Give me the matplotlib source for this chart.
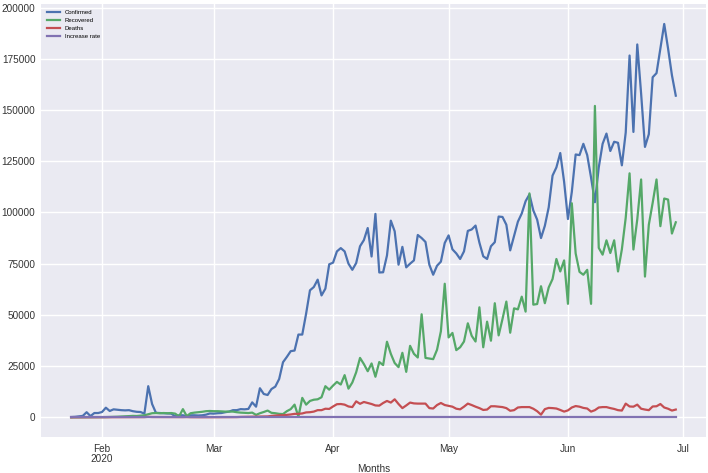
import matplotlib
matplotlib.use("Agg")
import matplotlib.pyplot as plt
import matplotlib.dates as mdates
import pandas as pd

start_date = "2020-01-24"

confirmed = [
    150, 250, 500, 700, 2500, 600, 2100, 2100, 2600, 4700,
    3100, 3900, 3700, 3500, 3400, 3500, 3000, 2700, 2600, 1800,
    15200, 6500, 2200, 2100, 2000, 1900, 1800, 500, 1000, 1000,
    600, 1000, 1000, 900, 1000, 1300, 1900, 1800, 2000, 2100,
    2500, 2800, 3500, 3500, 4000, 3900, 4100, 7300, 5200, 14200,
    11400, 10900, 13800, 15000, 18700, 26900, 29500, 32300, 32600, 40400,
    40400, 50600, 62000, 63600, 67200, 59500, 62800, 74700, 75500, 81000,
    82600, 81000, 75000, 72000, 75300, 83500, 86500, 92400, 78500, 99300,
    70700, 70800, 79000, 96000, 90800, 74500, 83200, 73200, 75000, 76600,
    89000, 87500, 85600, 74500, 69600, 74000, 76000, 85100, 88800, 82000,
    80000, 77300, 81000, 91000, 91700, 93600, 85300, 78600, 77300, 83500,
    85500, 98000, 97800, 94000, 81500, 88500, 95500, 99500, 105500, 108800,
    101000, 96500, 87500, 93500, 102500, 118000, 122000, 129000, 115000, 96800,
    110000, 128300, 128000, 133500, 128000, 117000, 105000, 122000, 133500, 138500,
    130000, 134500, 134000, 123000, 139000, 176600, 139300, 182000, 158000, 132000,
    138200, 166000, 168000, 180000, 192000, 180000, 167000, 157000,
]

recovered = [
    0, 10, 10, 20, 30, 40, 50, 70, 90, 120,
    170, 250, 300, 400, 500, 600, 700, 650, 800, 1000,
    1500, 2000, 2100, 2000, 2100, 2000, 2100, 1800, 400, 4000,
    600, 2000, 2300, 2500, 2700, 3000, 3100, 3000, 3000, 2900,
    2800, 2800, 2800, 2500, 2300, 2200, 2100, 2300, 1200, 2000,
    2600, 3300, 2200, 2000, 1700, 1600, 3000, 4000, 6200, 300,
    9500, 6200, 8000, 8600, 8800, 9800, 15200, 13500, 15500, 17300,
    16000, 20600, 14000, 17000, 22000, 29000, 26000, 22500, 26300, 19800,
    27000, 25500, 36900, 31000, 26500, 24500, 31500, 22200, 34900, 31000,
    29200, 50300, 29000, 28700, 28400, 33000, 42000, 65200, 39000, 41200,
    32800, 34200, 37000, 45900, 39800, 37000, 53700, 34200, 46700, 37400,
    55700, 40000, 48000, 56500, 41300, 53200, 52700, 58900, 51600, 109300,
    55000, 55300, 64000, 55700, 63400, 67500, 77300, 71200, 76600, 55400,
    104500, 80000, 71000, 69600, 72000, 55400, 152000, 82700, 79400, 86400,
    80200, 86400, 71200, 82000, 97400, 119100, 81900, 96600, 116100, 68700,
    94000, 104700, 116100, 93300, 106800, 106300, 89700, 95200,
]

deaths = [
    10, 20, 20, 40, 40, 50, 60, 60, 50, 60,
    70, 70, 70, 70, 80, 90, 90, 100, 100, 100,
    250, 150, 140, 140, 100, 100, 130, 100, 110, 100,
    150, 70, 50, 60, 40, 60, 60, 60, 70, 80,
    100, 100, 100, 110, 200, 230, 250, 300, 320, 350,
    400, 450, 700, 850, 1000, 1000, 1200, 1400, 1700, 1700,
    1900, 2400, 2500, 2800, 3500, 3500, 4200, 4100, 5300, 6400,
    6500, 6200, 5300, 5000, 7800, 6600, 7500, 7000, 6500, 5800,
    5700, 7000, 8000, 7200, 8800, 6500, 4500, 5800, 7200, 6800,
    6700, 6700, 6700, 4500, 4300, 6000, 7000, 6000, 5600, 5200,
    4200, 3900, 5200, 6700, 6000, 5200, 4500, 3600, 3800, 5400,
    5400, 5200, 5000, 4500, 3200, 3500, 4800, 5000, 5000, 5000,
    4200, 3000, 1300, 4000, 4600, 4500, 4300, 3600, 2800, 3400,
    4800, 5500, 5200, 4600, 4300, 2800, 3500, 4800, 5000, 5000,
    4500, 4100, 3500, 3300, 6700, 5300, 5200, 6200, 4200, 3800,
    3500, 5300, 5400, 6500, 4800, 4200, 3300, 3800,
]

increase_rate = [
    0, 0, 0, 0, 0, 0, 0, 0, 0, 0,
    0, 0, 0, 0, 0, 0, 0, 0, 0, 0,
    0, 0, 0, 0, 0, 0, 0, 0, 0, 0,
    0, 0, 0, 0, 0, 0, 0, 0, 0, 0,
    0, 0, 0, 0, 0, 0, 0, 0, 0, 0,
    0, 0, 0, 0, 0, 0, 0, 0, 0, 0,
    0, 0, 0, 0, 0, 0, 0, 0, 0, 0,
    0, 0, 0, 0, 0, 0, 0, 0, 0, 0,
    0, 0, 0, 0, 0, 0, 0, 0, 0, 0,
    0, 0, 0, 0, 0, 0, 0, 0, 0, 0,
    0, 0, 0, 0, 0, 0, 0, 0, 0, 0,
    0, 0, 0, 0, 0, 0, 0, 0, 0, 0,
    0, 0, 0, 0, 0, 0, 0, 0, 0, 0,
    0, 0, 0, 0, 0, 0, 0, 0, 0, 0,
    0, 0, 0, 0, 0, 0, 0, 0, 0, 0,
    0, 0, 0, 0, 0, 0, 0, 0,
]

series_labels = ["Confirmed", "Recovered", "Deaths", "Increase rate"]
tick_dates = ["2020-02-01", "2020-03-01", "2020-04-01", "2020-05-01", "2020-06-01", "2020-07-01"]
tick_labels = ["Feb\n2020", "Mar", "Apr", "May", "Jun", "Jul"]
y_ticks = [0, 25000, 50000, 75000, 100000, 125000, 150000, 175000, 200000]

colors = ["#4C72B0", "#55A868", "#C44E52", "#8172B2"]

dates = pd.date_range(start_date, periods=len(confirmed), freq="D")

plt.rcParams["font.family"] = ["Liberation Sans", "DejaVu Sans"]

fig = plt.figure(figsize=(7.08, 4.73), dpi=100)
ax = fig.add_axes([41 / 708, 1 - 437 / 473, 665 / 708, (437 - 4.3) / 473])
ax.set_facecolor("#EAEAF2")
for s in ax.spines.values():
    s.set_visible(False)

for vals, lab, col in zip([confirmed, recovered, deaths, increase_rate], series_labels, colors):
    ax.plot(dates, vals, color=col, linewidth=1.6, label=lab)

ax.set_xticks(pd.to_datetime(tick_dates))
ax.set_xticklabels(tick_labels, linespacing=1.0)
ax.set_yticks(y_ticks)
ax.set_yticklabels([str(v) for v in y_ticks])
ax.tick_params(axis="both", length=0, labelsize=7.2, colors="#333333")
ax.tick_params(axis="y", pad=4)
ax.tick_params(axis="x", pad=5)
ax.grid(True, color="white", linewidth=1.0)
ax.set_axisbelow(True)
ax.set_xlabel("Months", fontsize=7.2, color="#333333", labelpad=0)

leg = ax.legend(loc="upper left", fontsize=4.3, frameon=False, labelspacing=0.45,
                handlelength=2.2, borderaxespad=0.6)

fig.savefig("out.png", dpi=100)
